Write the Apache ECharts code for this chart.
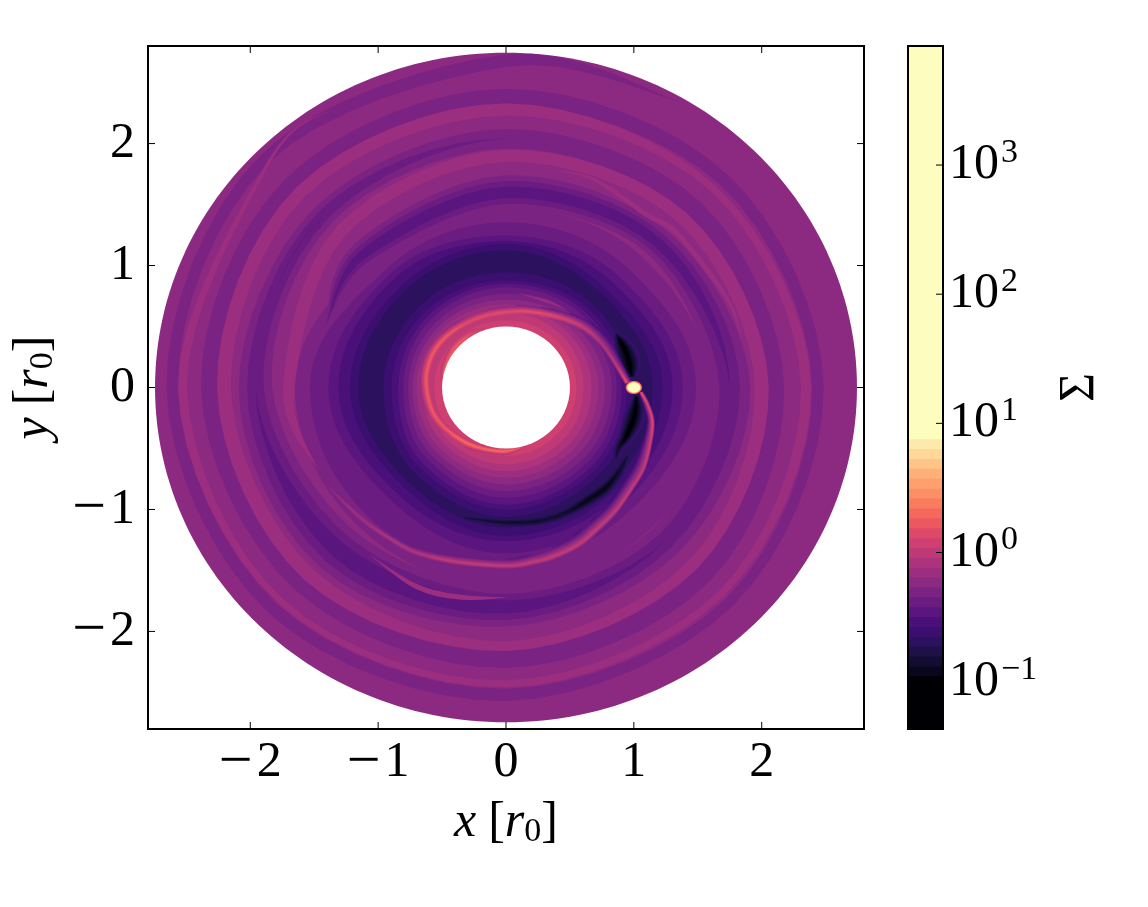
<!DOCTYPE html>
<html>
<head>
<meta charset="utf-8">
<style>html,body{margin:0;background:#fff}#main{width:1148px;height:907px}</style>
<script src="https://cdn.jsdelivr.net/npm/echarts@6/dist/echarts.min.js"></script>
</head>
<body>
<div id="main"></div>
<script>
// magma levels of the colorbar, bottom to top
var levelColors = ['#000004','#08071d','#120d31','#1d1147','#2c115f','#3b0f70','#4a1079','#5a167e','#6a1c81','#7b2382','#8c2981','#9b2e7f','#ad347c','#be3a77','#cf4070','#de4968','#ec5860','#f4695c','#f97c5d','#fc8f65','#fe9f6d','#feb078','#fec488','#fed799','#fde9ab','#fcfdbf'];
var sigmaEdges = [0.043,0.110,0.131,0.156,0.186,0.222,0.265,0.316,0.377,0.450,0.536,0.640,0.763,0.910,1.085,1.294,1.543,1.841,2.195,2.618,3.123,3.724,4.442,5.297,6.318,7.534,8.98];
var sigmaTop = 8350;
var axisTicks = [-2,-1,0,1,2];
var barTicks = [0.1,1,10,100,1000];
var barExponents = {'0.1':'−1','1':'0','10':'1','100':'2','1000':'3'};

// contour bands, outer to inner: level, then outer radius read along E, NE, N, NW, W, SW, S, SE
var bandLevels = [10,9,8,7,6,5,4,5,6,7,8,9,10,11,12,13,14];
var bandE  = [2.745,1.590,1.486,1.382,1.303,1.225,1.147,0.985,0.944,0.905,0.866,0.827,0.774,0.722,0.670,0.605,0.550];
var bandNE = [2.745,1.510,1.365,1.270,1.200,1.125,1.070,0.960,0.910,0.875,0.840,0.795,0.745,0.700,0.660,0.610,0.550];
var bandN  = [2.745,1.464,1.355,1.246,1.200,1.177,1.123,0.945,0.877,0.850,0.820,0.767,0.720,0.680,0.650,0.620,0.550];
var bandNW = [2.745,1.490,1.350,1.300,1.250,1.170,1.120,0.950,0.885,0.845,0.810,0.765,0.725,0.690,0.655,0.620,0.555];
var bandW  = [2.745,1.650,1.533,1.389,1.311,1.220,1.155,0.959,0.894,0.842,0.803,0.764,0.730,0.700,0.660,0.620,0.560];
var bandSW = [2.745,1.620,1.510,1.290,1.217,1.143,1.088,1.000,0.940,0.900,0.850,0.805,0.760,0.720,0.670,0.625,0.560];
var bandS  = [2.745,1.639,1.440,1.360,1.260,1.216,1.148,1.060,1.000,0.960,0.904,0.850,0.795,0.740,0.686,0.630,0.560];
var bandSE = [2.745,1.620,1.400,1.320,1.250,1.200,1.150,1.020,0.970,0.930,0.885,0.840,0.785,0.730,0.680,0.620,0.555];

// dark spiral wave, followed outward (clockwise): angle in degrees, centre radius, half width, deepest level
var darkWaveAngle = [160,135,90,45,0,-45,-90,-135,-180,-225,-270,-315,-360,-405,-450,-495,-540,-585,-630,-675,-720,-765,-810,-855,-900,-945,-990,-1020];
var darkWaveR = [1.50,1.56,1.60,1.68,1.75,1.77,1.80,1.87,1.96,2.01,2.04,2.08,2.11,2.18,2.23,2.28,2.32,2.36,2.38,2.41,2.44,2.48,2.52,2.57,2.61,2.66,2.68,2.71];
var darkWaveW = [0,0.11,0.14,0.12,0.16,0.14,0.16,0.20,0.13,0.09,0.08,0.07,0.065,0.07,0.07,0.06,0.065,0.07,0.07,0.05,0.045,0.04,0.05,0.05,0.045,0.045,0.05,0];
var darkWavePeak = [8,7,7,7,8,8,7,7,8,8,9,9,9,9,9,9,9,9,9,9,9,9,9,9,9,9,9,9];

// bright wave that carries the planet's arm on through the outer disk
var brightWaveAngle = [-155,-180,-225,-270,-315,-360,-405,-450,-495,-540,-585,-630,-675,-720,-765,-810,-855,-900,-945,-960];
var brightWaveR = [1.62,1.70,1.82,1.90,1.96,2.00,2.06,2.12,2.175,2.205,2.27,2.28,2.30,2.346,2.385,2.43,2.485,2.53,2.62,2.65];
var brightWaveW = [0,0.045,0.05,0.05,0.05,0.055,0.045,0.04,0.055,0.055,0.05,0.05,0.03,0.04,0.03,0.03,0.025,0.035,0.012,0];

// spiral arm from the planet going outward (clockwise)
var outerArmX = [1.056,1.108,1.147,1.134,1.082,0.99,0.86,0.719,0.574,0.39,0.209,0,-0.386,-0.704,-0.914,-1.095,-1.251,-1.43];
var outerArmY = [-0.04,-0.137,-0.273,-0.437,-0.656,-0.82,-1.01,-1.157,-1.284,-1.38,-1.434,-1.462,-1.43,-1.352,-1.232,-1.104,-0.959,-0.77];
var outerArmPeak = [17,15,15,14,13,13,13,13,13,13,13,13,13,12,12,11,11,10];
var outerArmBaseOut = [5,5,5,5,6,7,8,8,9,9,9,9,9,9,9,9,9,9];
var outerArmBaseIn = [4,4,4,4,5,5,5,6,6,7,7,7,8,8,8,9,9,9];
var outerArmOut = [0.02,0.02,0.02,0.02,0.02,0.02,0.025,0.03,0.03,0.03,0.03,0.03,0.03,0.03,0.03,0.03,0.02,0];
var outerArmIn = [0.02,0.04,0.05,0.07,0.09,0.09,0.09,0.09,0.09,0.08,0.07,0.06,0.05,0.04,0.03,0.03,0.02,0];

// same arm going inward from the planet (counter-clockwise)
var innerArmX = [0.944,0.866,0.761,0.631,0.475,0.266,0.084,-0.125,-0.307,-0.464,-0.568,-0.62,-0.615,-0.568,-0.464,-0.307,-0.151,0.005,0.162];
var innerArmY = [0.038,0.175,0.339,0.475,0.557,0.612,0.626,0.598,0.53,0.421,0.284,0.12,-0.044,-0.208,-0.344,-0.454,-0.508,-0.522,-0.481];
var innerArmPeak = [16,13,12,13,14,15,15,15,15,16,16,16,16,16,16,17,17,17,15];
var innerArmBaseIn = [7,8,9,10,12,13,13,13,13,13,13,13,13,13,13,13,13,13,13];
var innerArmBaseOut = [6,6,6,6,7,8,9,10,10,10,11,11,11,11,12,12,12,12,12];
var innerArmOut = [0.04,0.05,0.07,0.07,0.06,0.05,0.05,0.05,0.05,0.05,0.05,0.05,0.05,0.05,0.04,0.04,0.03,0.03,0];
var innerArmIn = [0.02,0.02,0.02,0.03,0.03,0.03,0.03,0.03,0.03,0.03,0.03,0.03,0.03,0.03,0.03,0.03,0.03,0.03,0];

var edgeArcX = [-0.5,-0.477,-0.399,-0.281,-0.151];
var edgeArcY = [0.02,0.148,0.325,0.434,0.489];
var edgeArcPeak = [13,16,16,15,13];
var edgeArcBase = [13,13,13,13,13];
var edgeArcW = [0,0.035,0.04,0.035,0];

var streakX = [0.084,0.318,0.475];
var streakY = [0.776,0.707,0.64];
var streakPeak = [10,11,10];
var streakBase = [9,9,9];
var streakW = [0,0.02,0];

// thin bright streaks outside the arm
var upperStreakX = [0.40,0.70,1.095,1.35,1.74,1.85];
var upperStreakY = [1.78,1.70,1.42,1.25,0.71,0.35];
var upperStreakW = [0,0.015,0.02,0.02,0.015,0];

var lowerStreakX = [-1.07,-0.704,-0.35,0.03];
var lowerStreakY = [-1.37,-1.63,-1.72,-1.72];
var lowerStreakW = [0,0.02,0.02,0];

// dark features of the gap
var darkStreakX = [-0.333,0,0.26,0.469,0.652,0.782,0.886,0.95];
var darkStreakY = [-1.068,-1.107,-1.093,-1.025,-0.915,-0.82,-0.683,-0.56];
var darkStreakPeak = [3,2,2,2,1,1,2,3];
var darkStreakBase = [4,4,4,4,4,4,4,4];
var darkStreakW = [0.01,0.03,0.035,0.04,0.05,0.05,0.04,0.02];

var upperCrescentX = [0.86,0.90,0.945,0.97,0.985];
var upperCrescentY = [0.44,0.37,0.27,0.17,0.09];
var upperCrescentPeak = [3,0,0,0,1];
var upperCrescentBase = [5,5,5,5,5];
var upperCrescentW = [0.02,0.06,0.09,0.085,0.04];

var lowerCrescentX = [1.02,1.015,0.99,0.94,0.88,0.86];
var lowerCrescentY = [-0.07,-0.17,-0.28,-0.4,-0.5,-0.58];
var lowerCrescentPeak = [1,0,0,0,2,3];
var lowerCrescentBase = [5,5,5,5,5,5];
var lowerCrescentW = [0.03,0.07,0.085,0.06,0.04,0.02];

// planet: level and half axes of each contour, and the central hole radius
var planetLevels = [16,20,25];
var planetRx = [0.064,0.057,0.05];
var planetRy = [0.054,0.048,0.041];
var holeRadius = 0.5;

var FONT = '"Liberation Serif", serif';

// band outline: radius eases between the eight read directions, so bands never cross
function ringPoints(api, i) {
  var nodes = [bandE[i], bandNE[i], bandN[i], bandNW[i], bandW[i], bandSW[i], bandS[i], bandSE[i], bandE[i]], pts = [];
  for (var k = 0; k < 240; k++) {
    var th = k / 240 * 2 * Math.PI, q = k / 30, n = Math.floor(q);
    var ease = (1 - Math.cos(Math.PI * (q - n))) / 2;
    var r = nodes[n] + (nodes[n + 1] - nodes[n]) * ease;
    pts.push(api.coord([r * Math.cos(th), r * Math.sin(th)]));
  }
  return pts;
}

function ellipsePoints(api, cx, cy, rx, ry) {
  var pts = [];
  for (var k = 0; k < 60; k++) {
    var th = k / 60 * 2 * Math.PI;
    pts.push(api.coord([cx + rx * Math.cos(th), cy + ry * Math.sin(th)]));
  }
  return pts;
}

// curve through the read points, only for drawing, all columns together
function spline(cols) {
  var n = cols[0].length, out = cols.map(function() { return []; });
  for (var i = 0; i < n - 1; i++) {
    for (var s = 0; s < 8; s++) {
      var t = s / 8;
      cols.forEach(function(c, j) {
        var p0 = c[Math.max(i - 1, 0)], p1 = c[i], p2 = c[i + 1], p3 = c[Math.min(i + 2, n - 1)];
        out[j].push(0.5 * (2 * p1 + (p2 - p0) * t + (2 * p0 - 5 * p1 + 4 * p2 - p3) * t * t + (3 * p1 - p0 - 3 * p2 + p3) * t * t * t));
      });
    }
  }
  cols.forEach(function(c, j) { out[j].push(c[n - 1]); });
  return out;
}

// share of the half width that a level keeps between the surroundings and the peak
function levelShare(level, base, peak) {
  var span = peak - base;
  if (Math.abs(span) < 0.01) return Math.abs(level - peak) < 0.01 ? 1 : 0;
  var u = (level - base) / (span + (span > 0 ? 1 : -1));
  return u < 0 || u > 1 ? 0 : 1 - u;
}

// filled contours around a curve: one polygon per level, narrower towards the peak
function ribbon(x, y, peak, baseLeft, baseRight, wLeft, wRight) {
  var d = spline([x, y, peak, baseLeft, baseRight, wLeft, wRight]);
  var all = peak.concat(baseLeft, baseRight);
  var lo = Math.min.apply(null, all), hi = Math.max.apply(null, all), levels = [];
  for (var l = lo; l <= hi; l++) levels.push(l);
  if (Math.max.apply(null, peak) <= Math.max.apply(null, baseLeft)) levels.reverse();
  return {
    type: 'custom', xAxisIndex: 0, yAxisIndex: 0, silent: true, animation: false,
    data: levels,
    renderItem: function(params, api) {
      var level = levels[params.dataIndex], left = [], right = [];
      for (var i = 0; i < d[0].length; i++) {
        var a = Math.max(i - 1, 0), b = Math.min(i + 1, d[0].length - 1);
        var dx = d[0][b] - d[0][a], dy = d[1][b] - d[1][a], len = Math.sqrt(dx * dx + dy * dy) || 1;
        var fl = levelShare(level, d[3][i], d[2][i]) * Math.max(d[5][i], 0), fr = levelShare(level, d[4][i], d[2][i]) * Math.max(d[6][i], 0);
        left.push(api.coord([d[0][i] - dy / len * fl, d[1][i] + dx / len * fl]));
        right.push(api.coord([d[0][i] + dy / len * fr, d[1][i] - dx / len * fr]));
      }
      return { type: 'polygon', shape: { points: left.concat(right.reverse()) }, style: { fill: levelColors[level] } };
    }
  };
}

function constant(list, value) { return list.map(function() { return value; }); }

// the spiral waves are read as radius against angle
function waveRibbon(angle, radius, peak, base, width) {
  var x = angle.map(function(a, i) { return radius[i] * Math.cos(a * Math.PI / 180); });
  var y = angle.map(function(a, i) { return radius[i] * Math.sin(a * Math.PI / 180); });
  return ribbon(x, y, peak, base, base, width, width);
}

// a thin strip of one level
function strip(x, y, level, width) {
  var lv = constant(x, level);
  return ribbon(x, y, lv, lv, lv, width, width);
}

var series = [
  {
    type: 'custom', xAxisIndex: 0, yAxisIndex: 0, silent: true, animation: false,
    data: bandLevels,
    renderItem: function(params, api) {
      var i = params.dataIndex;
      return { type: 'polygon', shape: { points: ringPoints(api, i) }, style: { fill: levelColors[bandLevels[i]] } };
    }
  },
  waveRibbon(darkWaveAngle, darkWaveR, darkWavePeak, constant(darkWaveR, 9), darkWaveW),
  waveRibbon(brightWaveAngle, brightWaveR, constant(brightWaveR, 11), constant(brightWaveR, 11), brightWaveW),
  strip(upperStreakX, upperStreakY, 11, upperStreakW),
  strip(lowerStreakX, lowerStreakY, 11, lowerStreakW),
  ribbon(darkStreakX, darkStreakY, darkStreakPeak, darkStreakBase, darkStreakBase, darkStreakW, darkStreakW),
  ribbon(upperCrescentX, upperCrescentY, upperCrescentPeak, upperCrescentBase, upperCrescentBase, upperCrescentW, upperCrescentW),
  ribbon(lowerCrescentX, lowerCrescentY, lowerCrescentPeak, lowerCrescentBase, lowerCrescentBase, lowerCrescentW, lowerCrescentW),
  ribbon(streakX, streakY, streakPeak, streakBase, streakBase, streakW, streakW),
  ribbon(outerArmX, outerArmY, outerArmPeak, outerArmBaseOut, outerArmBaseIn, outerArmOut, outerArmIn),
  ribbon(innerArmX, innerArmY, innerArmPeak, innerArmBaseIn, innerArmBaseOut, innerArmIn, innerArmOut),
  ribbon(edgeArcX, edgeArcY, edgeArcPeak, edgeArcBase, edgeArcBase, edgeArcW, edgeArcW),
  {
    type: 'custom', xAxisIndex: 0, yAxisIndex: 0, silent: true, animation: false,
    data: planetLevels,
    renderItem: function(params, api) {
      var i = params.dataIndex;
      return { type: 'polygon', shape: { points: ellipsePoints(api, 1.0, 0, planetRx[i], planetRy[i]) }, style: { fill: levelColors[planetLevels[i]] } };
    }
  },
  {
    type: 'custom', xAxisIndex: 0, yAxisIndex: 0, silent: true, animation: false,
    data: [holeRadius],
    renderItem: function(params, api) {
      return { type: 'polygon', shape: { points: ellipsePoints(api, 0, 0, holeRadius, holeRadius) }, style: { fill: '#fff' } };
    }
  },
  {
    // ticks on all four sides of the main frame
    type: 'custom', xAxisIndex: 0, yAxisIndex: 0, silent: true, animation: false,
    data: axisTicks,
    renderItem: function(params, api) {
      var v = axisTicks[params.dataIndex], len = 7, style = { stroke: '#000', lineWidth: 1 };
      var b = api.coord([v, -2.8]), t = api.coord([v, 2.8]), l = api.coord([-2.8, v]), r = api.coord([2.8, v]);
      return { type: 'group', children: [
        { type: 'line', shape: { x1: b[0], y1: b[1], x2: b[0], y2: b[1] - len }, style: style },
        { type: 'line', shape: { x1: t[0], y1: t[1], x2: t[0], y2: t[1] + len }, style: style },
        { type: 'line', shape: { x1: l[0], y1: l[1], x2: l[0] + len, y2: l[1] }, style: style },
        { type: 'line', shape: { x1: r[0], y1: r[1], x2: r[0] - len, y2: r[1] }, style: style }
      ] };
    }
  },
  {
    // each colorbar level is painted from its lower edge up to the top
    type: 'custom', xAxisIndex: 2, yAxisIndex: 2, silent: true, animation: false,
    data: sigmaEdges.map(function(v) { return [0, v]; }),
    renderItem: function(params, api) {
      var lo = api.coord([0, api.value(1)]), hi = api.coord([1, sigmaTop]);
      return { type: 'rect', shape: { x: lo[0], y: hi[1], width: hi[0] - lo[0], height: lo[1] - hi[1] }, style: { fill: levelColors[params.dataIndex] } };
    }
  },
  {
    // colorbar ticks and frame go over the levels
    type: 'custom', xAxisIndex: 2, yAxisIndex: 2, silent: true, animation: false,
    data: barTicks.map(function(v) { return [1, v]; }),
    renderItem: function(params, api) {
      var p = api.coord([1, api.value(1)]);
      return { type: 'line', shape: { x1: p[0], y1: p[1], x2: p[0] - 7, y2: p[1] }, style: { stroke: '#000', lineWidth: 1 } };
    }
  },
  {
    type: 'custom', xAxisIndex: 2, yAxisIndex: 2, silent: true, animation: false,
    data: [[0, sigmaTop]],
    renderItem: function(params, api) {
      var lo = api.coord([0, sigmaEdges[0]]), hi = api.coord([1, sigmaTop]);
      return { type: 'rect', shape: { x: lo[0], y: hi[1], width: hi[0] - lo[0], height: lo[1] - hi[1] }, style: { fill: 'none', stroke: '#000', lineWidth: 2 } };
    }
  }
];

function frameAxis(base) {
  return Object.assign({
    type: 'value', min: -2.8, max: 2.8,
    axisLine: { show: false }, splitLine: { show: false }, axisTick: { show: false }
  }, base);
}

var tickLabel = {
  show: true, customValues: axisTicks,
  formatter: function(v) { return v < 0 ? '{m|−}{d|' + (-v) + '}' : '{d|' + v + '}'; },
  rich: {
    m: { fontFamily: FONT, fontSize: 60, lineHeight: 60, color: '#000', padding: [0, 4, 0, 0] },
    d: { fontFamily: FONT, fontSize: 50, lineHeight: 60, color: '#000' }
  }
};

var nameRich = {
  i: { fontFamily: FONT, fontStyle: 'italic', fontSize: 50, color: '#000' },
  n: { fontFamily: FONT, fontSize: 50, color: '#000' },
  gap: { fontFamily: FONT, fontSize: 50, color: '#000', padding: [0, 0, 0, 12] },
  sub: { fontFamily: FONT, fontSize: 34, color: '#000', padding: [18, 0, 0, 0] }
};

var myChart = echarts.init(document.getElementById('main'));
myChart.setOption({
  backgroundColor: '#fff',
  animation: false,
  grid: [
    { left: 148, right: 284, top: 46, height: 683, show: true, borderColor: '#000', borderWidth: 2, backgroundColor: '#fff' },
    { left: 908, width: 35, top: 46, height: 683, show: false }
  ],
  xAxis: [
    frameAxis({
      gridIndex: 0, position: 'bottom', axisLabel: Object.assign({ margin: 4 }, tickLabel),
      name: '{i|x}{gap|[}{i|r}{sub|0}{n|]}', nameLocation: 'middle', nameGap: 64,
      nameTextStyle: { rich: nameRich }
    }),
    frameAxis({ gridIndex: 0, position: 'top', axisLabel: { show: false } }),
    { gridIndex: 1, type: 'value', min: 0, max: 1, show: false }
  ],
  yAxis: [
    frameAxis({
      gridIndex: 0, position: 'left', axisLabel: Object.assign({ margin: 13 }, tickLabel),
      name: '{i|y}{gap|[}{i|r}{sub|0}{n|]}', nameLocation: 'middle', nameGap: 88, nameRotate: 90,
      nameTextStyle: { rich: nameRich }
    }),
    frameAxis({ gridIndex: 0, position: 'right', axisLabel: { show: false } }),
    {
      gridIndex: 1, type: 'log', position: 'right', min: 0.043, max: 8350,
      axisLine: { show: false }, splitLine: { show: false }, minorTick: { show: false }, axisTick: { show: false },
      axisLabel: {
        show: true, customValues: barTicks, margin: 6, align: 'left',
        formatter: function(v) { return '{b|10}{s|' + barExponents[String(v)] + '}'; },
        rich: {
          b: { fontFamily: FONT, fontSize: 50, color: '#000' },
          s: { fontFamily: FONT, fontSize: 34, color: '#000', padding: [0, 0, 24, 2] }
        }
      },
      name: 'Σ', nameLocation: 'middle', nameGap: 112, nameRotate: 90,
      nameTextStyle: { fontFamily: FONT, fontSize: 50, color: '#000' }
    }
  ],
  series: series
});
</script>
</body>
</html>
